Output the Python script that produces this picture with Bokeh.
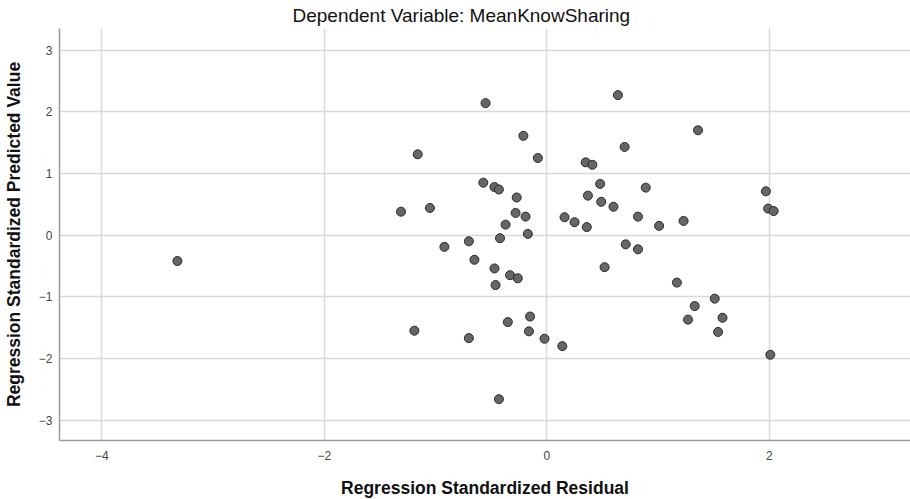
from bokeh.plotting import figure
from bokeh.models import ColumnDataSource, Range1d, FixedTicker
from bokeh.embed import file_html
from bokeh.resources import INLINE

title_text = "Dependent Variable: MeanKnowSharing"
x_label = "Regression Standardized Residual"
y_label = "Regression Standardized Predicted Value"

x_ticks = [-4, -2, 0, 2]
y_ticks = [-3, -2, -1, 0, 1, 2, 3]

std_residual = [
    -3.32, -1.31, -1.05, -1.16, -0.92, -0.70, -0.65, -0.57, -0.55, -0.47,
    -0.43, -0.42, -0.37, -0.28, -0.27, -0.21, -0.19, -0.17, -0.08, -0.47,
    -0.33, -0.26, -0.46, -0.15, -0.35, -1.19, -0.70, -0.16, -0.02, 0.14,
    -0.43, 0.16, 0.25, 0.36, 0.35, 0.41, 0.64, 0.70, 1.36, 0.48,
    0.37, 0.49, 0.60, 0.89, 0.82, 1.01, 1.23, 1.97, 1.99, 2.04,
    0.71, 0.82, 0.52, 1.17, 1.51, 1.33, 1.58, 1.27, 1.54, 2.01,
]
std_predicted = [
    -0.42, 0.38, 0.44, 1.31, -0.19, -0.10, -0.40, 0.85, 2.14, 0.78,
    0.74, -0.05, 0.17, 0.36, 0.61, 1.61, 0.30, 0.02, 1.25, -0.54,
    -0.65, -0.70, -0.81, -1.32, -1.41, -1.55, -1.67, -1.56, -1.68, -1.80,
    -2.66, 0.29, 0.21, 0.13, 1.18, 1.14, 2.27, 1.43, 1.70, 0.83,
    0.64, 0.54, 0.46, 0.77, 0.30, 0.15, 0.23, 0.71, 0.43, 0.39,
    -0.15, -0.23, -0.52, -0.77, -1.03, -1.15, -1.34, -1.37, -1.57, -1.94,
]

src = ColumnDataSource(dict(x=std_residual, y=std_predicted))

FONT = "Liberation Sans"

p = figure(
    width=910, height=500,
    output_backend="svg", toolbar_location=None,
    x_range=Range1d(-4.38, 3.27), y_range=Range1d(-3.33, 3.35),
    min_border_left=52, min_border_right=0, min_border_top=20, min_border_bottom=50,
)
p.title.text = title_text
p.title.align = "left"
p.title.text_font = FONT
p.title.text_font_size = "19px"
p.title.text_font_style = "normal"
p.title.text_color = "#111111"
p.title.offset = 233
p.title.standoff = 5

p.outline_line_color = None
p.background_fill_color = "white"

for ax in (p.xaxis[0], p.yaxis[0]):
    ax.axis_line_color = "#9a9a9a"
    ax.axis_line_width = 1.5
    ax.major_tick_line_color = None
    ax.minor_tick_line_color = None
    ax.major_tick_out = 0
    ax.major_tick_in = 0
    ax.minor_tick_out = 0
    ax.minor_tick_in = 0
    ax.major_label_text_font = FONT
    ax.major_label_text_font_size = "12px"
    ax.major_label_text_color = "#444444"
    ax.axis_label_text_font = FONT
    ax.axis_label_text_font_size = "17.5px"
    ax.axis_label_text_font_style = "bold"
    ax.axis_label_text_color = "#111111"

p.xaxis.ticker = FixedTicker(ticks=x_ticks)
p.yaxis.ticker = FixedTicker(ticks=y_ticks)
p.xaxis.axis_label = x_label
p.yaxis.axis_label = y_label
p.xaxis.major_label_standoff = 10
p.xaxis.axis_label_standoff = 15
p.yaxis.major_label_standoff = 7
p.yaxis.axis_label_standoff = 12

p.xgrid.grid_line_color = "#d9d9d9"
p.ygrid.grid_line_color = "#d9d9d9"
p.xgrid.grid_line_width = 1.5
p.ygrid.grid_line_width = 1.5

p.scatter("x", "y", source=src, size=9, fill_color="#666666",
          line_color="#2a2a2a", line_width=1.0)

open("out.html", "w").write(file_html(p, INLINE))
